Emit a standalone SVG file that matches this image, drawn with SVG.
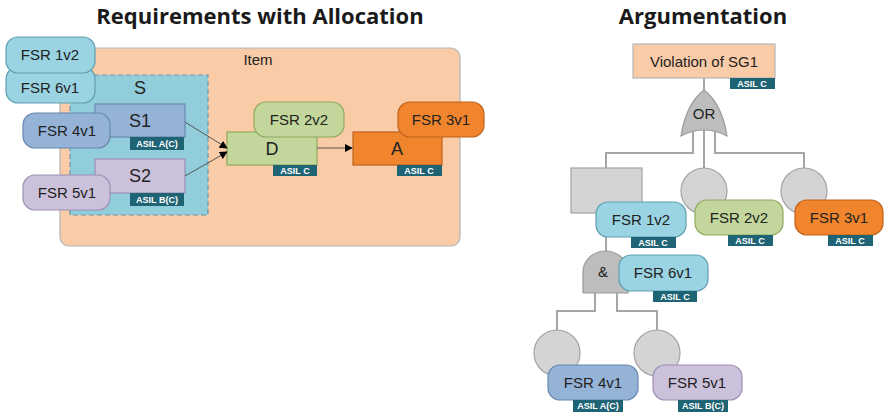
<svg xmlns="http://www.w3.org/2000/svg" width="885" height="416" viewBox="0 0 885 416">
<defs>
<marker id="ah" viewBox="0 0 10 10" refX="9" refY="5" markerWidth="8" markerHeight="8" markerUnits="userSpaceOnUse" orient="auto">
<path d="M0,0 L10,5 L0,10 Z" fill="#000"/>
</marker>
<style>
text{font-family:"Liberation Sans",Arial,sans-serif;fill:#222;}
.title{font-family:"Open Sans","Liberation Sans",sans-serif;font-size:22px;font-weight:bold;text-anchor:middle;fill:#1a1a1a;}
.lbl{font-size:15px;text-anchor:middle;}
.big{font-size:18px;text-anchor:middle;}
.tag{fill:#1F6475;}
.tagt{font-size:9px;font-weight:bold;fill:#fff;text-anchor:middle;}
.lb{fill:#9AD3E1;stroke:#5F9FB3;stroke-width:1.2;}
.bl{fill:#95B3D7;stroke:#6887B0;stroke-width:1.2;}
.lv{fill:#CCC1DA;stroke:#9C8FB3;stroke-width:1.2;}
.gr{fill:#C3D69B;stroke:#8FAA5E;stroke-width:1.2;}
.or{fill:#F0852D;stroke:#C0621C;stroke-width:1.2;}
.gy{fill:#D4D4D4;stroke:#A3A3A3;stroke-width:1.2;}
.gate{fill:#BDBDBD;stroke:#999;stroke-width:1.2;}
.ln{fill:none;stroke:#A6A6A6;stroke-width:2;}
.ar{fill:none;stroke:#555;stroke-width:1;marker-end:url(#ah);}
</style>
</defs>
<rect width="885" height="416" fill="#fff"/>
<text class="title" x="260" y="24">Requirements with Allocation</text>
<text class="title" x="703" y="24">Argumentation</text>

<g id="item">
<rect x="60" y="48" width="400" height="198" rx="9" fill="#F9CBA6" stroke="#B5B5B5" stroke-width="1.2"/>
<text class="lbl" x="258" y="65">Item</text>
</g>
<g id="S">
<rect x="70" y="75" width="138" height="140" fill="#92CDDC" stroke="#6E93A8" stroke-width="1.2" stroke-dasharray="5,3"/>
<text class="big" x="140" y="94">S</text>
</g>
<g id="S1">
<rect class="bl" x="95" y="104" width="90" height="33"/>
<text class="big" x="140" y="127">S1</text>
<rect class="tag" x="130" y="137" width="54" height="13"/>
<text class="tagt" x="157" y="147">ASIL A(C)</text>
</g>
<g id="S2">
<rect class="lv" x="95" y="159" width="90" height="34"/>
<text class="big" x="140" y="182">S2</text>
<rect class="tag" x="130" y="193" width="54" height="13"/>
<text class="tagt" x="157" y="203">ASIL B(C)</text>
</g>
<g id="L-FSR6v1">
<rect class="lb" x="6" y="67" width="89" height="36" rx="12"/>
<text class="lbl" x="50" y="93">FSR 6v1</text>
</g>
<g id="L-FSR1v2">
<rect class="lb" x="6" y="37" width="89" height="36" rx="12"/>
<text class="lbl" x="50" y="60">FSR 1v2</text>
</g>
<g id="L-FSR4v1">
<rect class="bl" x="23" y="113" width="87" height="35" rx="12"/>
<text class="lbl" x="67" y="136">FSR 4v1</text>
</g>
<g id="L-FSR5v1">
<rect class="lv" x="23" y="175" width="87" height="35" rx="12"/>
<text class="lbl" x="67" y="198">FSR 5v1</text>
</g>
<g id="D">
<rect class="gr" x="227" y="132" width="90" height="33"/>
<text class="big" x="272" y="155">D</text>
<rect class="tag" x="273" y="165" width="44" height="11"/>
<text class="tagt" x="295" y="174">ASIL C</text>
</g>
<g id="L-FSR2v2">
<rect class="gr" x="254" y="102" width="90" height="35" rx="12"/>
<text class="lbl" x="299" y="125">FSR 2v2</text>
</g>
<g id="A">
<rect class="or" x="353" y="132" width="89" height="33"/>
<text class="big" x="397" y="155">A</text>
<rect class="tag" x="397" y="165" width="45" height="11"/>
<text class="tagt" x="419" y="174">ASIL C</text>
</g>
<g id="L-FSR3v1">
<rect class="or" x="398" y="102" width="86" height="35" rx="12"/>
<text class="lbl" x="441" y="125">FSR 3v1</text>
</g>
<g id="left-connectors">
<line class="ar" x1="185" y1="122" x2="227" y2="148"/>
<line class="ar" x1="185" y1="176" x2="227" y2="152"/>
<line class="ar" x1="317" y1="148" x2="352" y2="148"/>
</g>

<g id="right-connectors">
<path class="ln" d="M704,78 V92"/>
<path class="ln" d="M704,128 V168"/>
<path class="ln" d="M693,130 V153 H606 V168"/>
<path class="ln" d="M715,130 V153 H804 V168"/>
<path class="ln" d="M606,237 V252"/>
<path class="ln" d="M595,293 V311 H557 V330"/>
<path class="ln" d="M617,293 V311 H657 V330"/>
</g>
<g id="violation">
<rect x="633" y="44" width="142" height="34" fill="#F9CBA6" stroke="#B5B5B5" stroke-width="1.2"/>
<text class="lbl" x="704" y="67">Violation of SG1</text>
<rect class="tag" x="730" y="78" width="45" height="11"/>
<text class="tagt" x="752" y="87">ASIL C</text>
</g>
<g id="or-gate">
<path class="gate" d="M704,90 Q722,104 727,136 Q704,124 681,136 Q686,104 704,90 Z"/>
<text class="lbl" x="704" y="119">OR</text>
</g>
<g id="undev">
<rect class="gy" x="571" y="168" width="71" height="45"/>
</g>
<g id="c1"><circle class="gy" cx="704" cy="191" r="23"/></g>
<g id="c2"><circle class="gy" cx="804" cy="191" r="23"/></g>
<g id="R-FSR1v2">
<rect class="lb" x="596" y="202" width="90" height="35" rx="12"/>
<text class="lbl" x="641" y="225">FSR 1v2</text>
<rect class="tag" x="631" y="237" width="45" height="11"/>
<text class="tagt" x="653" y="246">ASIL C</text>
</g>
<g id="R-FSR2v2">
<rect class="gr" x="695" y="200" width="88" height="35" rx="12"/>
<text class="lbl" x="739" y="223">FSR 2v2</text>
<rect class="tag" x="728" y="235" width="45" height="11"/>
<text class="tagt" x="750" y="244">ASIL C</text>
</g>
<g id="R-FSR3v1">
<rect class="or" x="795" y="200" width="88" height="35" rx="12"/>
<text class="lbl" x="839" y="223">FSR 3v1</text>
<rect class="tag" x="828" y="235" width="45" height="11"/>
<text class="tagt" x="850" y="244">ASIL C</text>
</g>
<g id="and-gate">
<path class="gate" d="M583,293 V272 A22.5,21 0 0 1 628,272 V293 Z"/>
<text class="lbl" x="603" y="277">&amp;</text>
</g>
<g id="R-FSR6v1">
<rect class="lb" x="619" y="255" width="89" height="36" rx="12"/>
<text class="lbl" x="663" y="278">FSR 6v1</text>
<rect class="tag" x="653" y="291" width="44" height="11"/>
<text class="tagt" x="675" y="300">ASIL C</text>
</g>
<g id="c3"><circle class="gy" cx="557" cy="353" r="23"/></g>
<g id="c4"><circle class="gy" cx="657" cy="353" r="23"/></g>
<g id="R-FSR4v1">
<rect class="bl" x="548" y="365" width="90" height="35" rx="12"/>
<text class="lbl" x="593" y="388">FSR 4v1</text>
<rect class="tag" x="573" y="400" width="50" height="12"/>
<text class="tagt" x="598" y="409">ASIL A(C)</text>
</g>
<g id="R-FSR5v1">
<rect class="lv" x="653" y="365" width="89" height="35" rx="12"/>
<text class="lbl" x="697" y="388">FSR 5v1</text>
<rect class="tag" x="678" y="400" width="50" height="12"/>
<text class="tagt" x="703" y="409">ASIL B(C)</text>
</g>
</svg>
